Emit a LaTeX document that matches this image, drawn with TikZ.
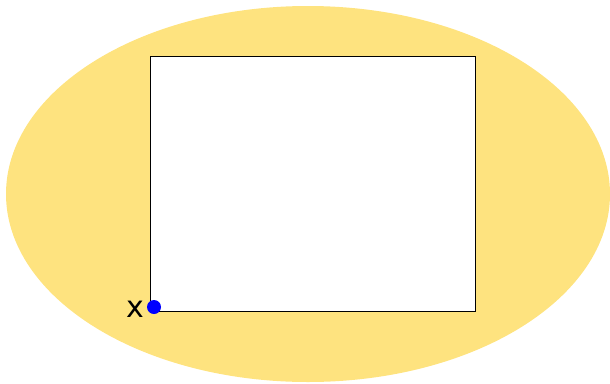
\documentclass[tikz,border=0pt]{standalone}
\usepackage{fontspec}
\setmainfont{DejaVu Sans}
\definecolor{ellyellow}{HTML}{FEE37F}
\definecolor{dotblue}{HTML}{0000FF}
\begin{document}
\begin{tikzpicture}[x=1pt,y=-1pt,
  region/.style={fill=ellyellow,draw=none},
  box/.style={fill=white,draw=black,line width=0.8pt},
  pointdot/.style={circle,fill=dotblue,inner sep=0pt,minimum size=14pt},
  pointlabel/.style={inner sep=0pt,font=\fontsize{30}{30}\selectfont}]
\useasboundingbox (0,0) rectangle (610,383);
\fill[region] (308,194) ellipse [x radius=302, y radius=188];
\draw[box] (150,56) rectangle (475,311);
\node[pointdot] (p) at (154,307) {};
\node[pointlabel,anchor=base] (lbl) at (135.5,317.5) {x};
\end{tikzpicture}
\end{document}
